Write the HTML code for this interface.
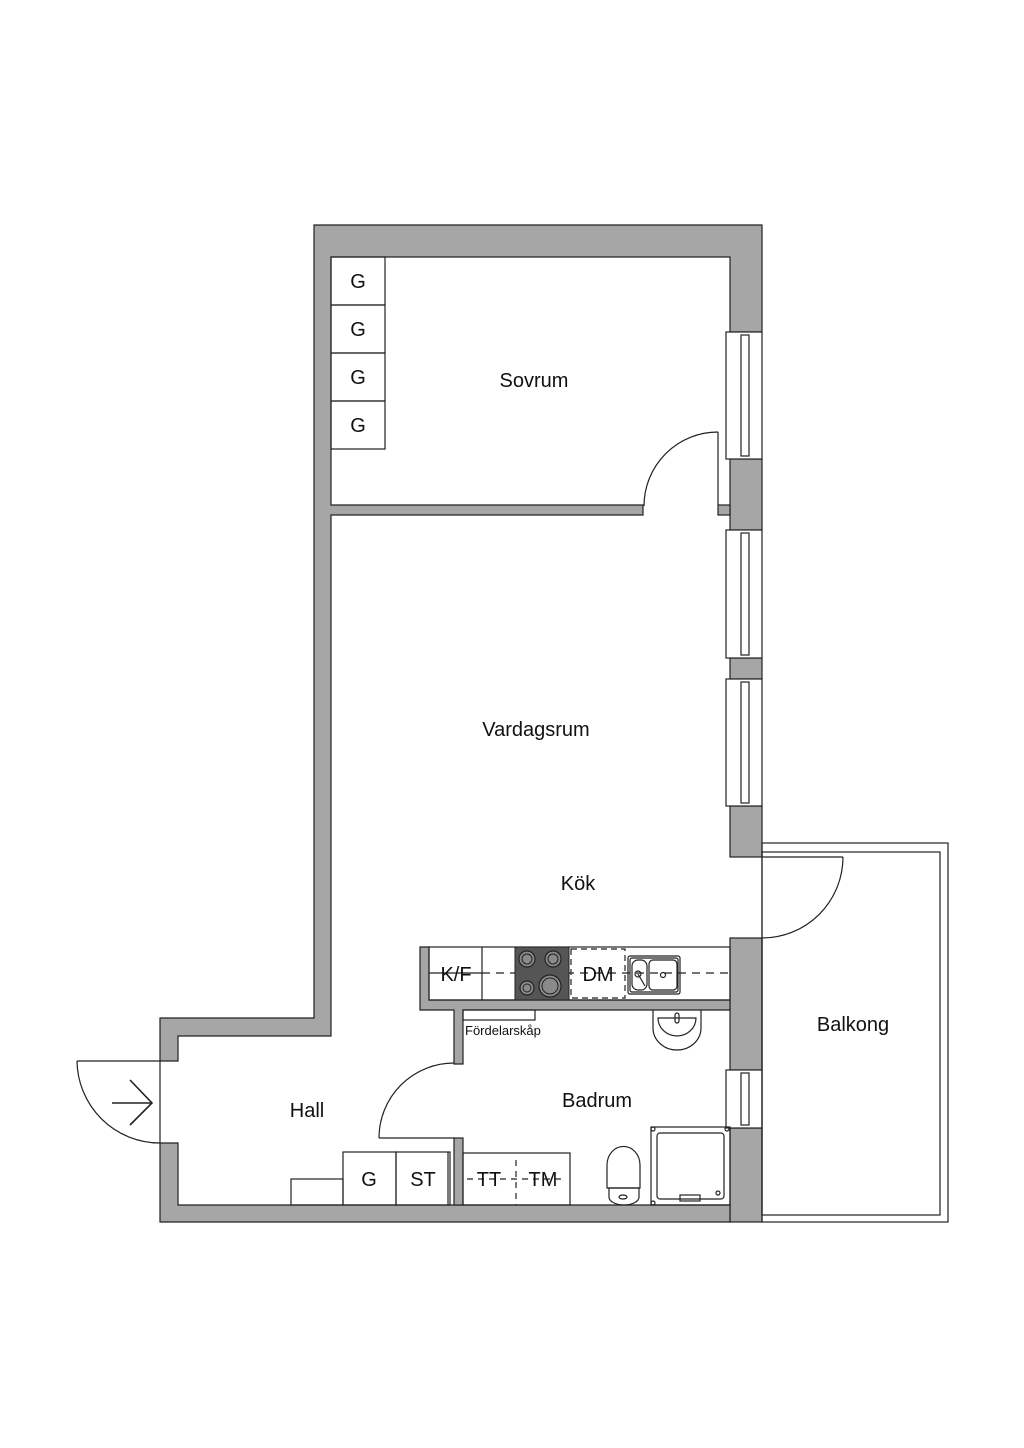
<!DOCTYPE html>
<html><head><meta charset="utf-8"><style>
html,body{margin:0;padding:0;background:#fff;}
svg{display:block;}
text{font-family:"Liberation Sans",sans-serif;fill:#111;}
</style></head><body>
<svg width="1024" height="1448" viewBox="0 0 1024 1448" xmlns="http://www.w3.org/2000/svg">
<g fill="#a6a6a6" stroke="#222" stroke-width="1.2">
<!-- outer top/left -->
<path d="M314,225 H762 V332 H730 V257 H331 V505 H643 V515 H331 V1036 H178 V1061 H160 V1018 H314 Z"/>
<!-- right wall pieces -->
<rect x="730" y="459" width="32" height="71"/>
<rect x="718" y="505" width="12" height="10"/>
<rect x="730" y="658" width="32" height="21"/>
<rect x="730" y="806" width="32" height="51"/>
<rect x="730" y="938" width="32" height="132"/>
<rect x="730" y="1128" width="32" height="94"/>
<!-- hall lower left + bottom -->
<path d="M160,1143 H178 V1205 H730 V1222 H160 Z"/>
<!-- kitchen counter wall -->
<path d="M420,947 H429 V1000 H730 V1010 H463 V1064 H454 V1010 H420 Z"/>
<rect x="454" y="1138" width="9" height="67"/>
</g>
<g fill="none" stroke="#222" stroke-width="1.2">
<!-- windows -->
<rect x="726" y="332" width="36" height="127" fill="#fff"/>
<rect x="741" y="335" width="8" height="121"/>
<rect x="726" y="530" width="36" height="128" fill="#fff"/>
<rect x="741" y="533" width="8" height="122"/>
<rect x="726" y="679" width="36" height="127" fill="#fff"/>
<rect x="741" y="682" width="8" height="121"/>
<rect x="726" y="1070" width="36" height="58" fill="#fff"/>
<rect x="741" y="1073" width="8" height="52"/>
<!-- sovrum door -->
<line x1="718" y1="432" x2="718" y2="505"/>
<path d="M718,432 A74,74 0 0 0 644,506"/>
<!-- balcony -->
<rect x="762" y="843" width="186" height="379"/>
<rect x="762" y="852" width="178" height="363"/>
<line x1="762" y1="857" x2="843" y2="857"/>
<path d="M843,857 A81,81 0 0 1 762,938"/>
<!-- entry door -->
<line x1="77" y1="1061" x2="160" y2="1061"/>
<line x1="160" y1="1061" x2="160" y2="1143"/>
<path d="M77,1061 A83,83 0 0 0 160,1143"/>
<line x1="112" y1="1103" x2="152" y2="1103" stroke-width="1.6"/>
<polyline points="130,1080 152,1103 130,1125" stroke-width="1.6"/>
<!-- bath door -->
<line x1="379" y1="1138" x2="454" y2="1138"/>
<path d="M379,1138 A75,75 0 0 1 454,1063"/>
<!-- sovrum wardrobes -->
<rect x="331" y="257" width="54" height="48"/>
<rect x="331" y="305" width="54" height="48"/>
<rect x="331" y="353" width="54" height="48"/>
<rect x="331" y="401" width="54" height="48"/>
<!-- hall storage -->
<rect x="291" y="1179" width="52" height="26"/>
<rect x="343" y="1152" width="53" height="53"/>
<rect x="396" y="1152" width="54" height="53"/>
<line x1="448" y1="1152" x2="448" y2="1205"/>
<!-- kitchen counter -->
<rect x="429" y="947" width="301" height="53"/>
<line x1="482" y1="947" x2="482" y2="1000"/>
<line x1="482" y1="973" x2="730" y2="973" stroke-dasharray="8,6"/>
<line x1="429" y1="973" x2="482" y2="973" stroke-dasharray="0"/>
<rect x="571" y="949" width="54" height="49" stroke-dasharray="6,4"/>
<!-- fordelarskap -->
<rect x="463" y="1010" width="72" height="10"/>
<!-- TT TM -->
<rect x="463" y="1153" width="107" height="52"/>
<line x1="516" y1="1160" x2="516" y2="1205" stroke-dasharray="6,5"/>
<line x1="467" y1="1179" x2="566" y2="1179" stroke-dasharray="6,5"/>
<!-- sink -->
<rect x="628" y="956" width="52" height="38" rx="2"/>
<rect x="630" y="958" width="48" height="34" rx="2"/>
<rect x="632" y="960" width="15" height="30" rx="6"/>
<rect x="649" y="960" width="28" height="30" rx="4"/>
<circle cx="638" cy="974" r="3"/>
<circle cx="663" cy="975" r="2.5"/>
<line x1="638" y1="974" x2="645" y2="986"/>
<!-- washbasin -->
<path d="M653,1010 V1028 A24,22 0 0 0 701,1028 V1010"/>
<path d="M658,1018 A19,18 0 0 0 696,1018 Z"/>
<rect x="675" y="1013" width="4" height="10" rx="2"/>
<!-- toilet -->
<path d="M607,1165 A16,18 0 0 1 640,1165 V1188 H607 Z"/>
<path d="M609,1188 H639 V1197 A15,8 0 0 1 609,1197 Z"/>
<ellipse cx="623" cy="1197" rx="4" ry="2"/>
<!-- shower -->
<rect x="651" y="1127" width="79" height="78"/>
<rect x="657" y="1133" width="67" height="66" rx="3"/>
<circle cx="653" cy="1129" r="2"/><circle cx="727" cy="1129" r="2"/>
<circle cx="653" cy="1203" r="2"/><circle cx="718" cy="1193" r="2"/>
<rect x="680" y="1195" width="20" height="6"/>
</g>
<!-- stove -->
<rect x="515" y="947" width="54" height="53" fill="#555" stroke="#222"/>
<g stroke="#222" stroke-width="1.2" fill="#8a8a8a">
<circle cx="527" cy="959" r="8"/><circle cx="553" cy="959" r="8"/>
<circle cx="527" cy="988" r="7"/><circle cx="550" cy="986" r="11"/>
</g>
<g fill="none" stroke="#222" stroke-width="1"><circle cx="527" cy="959" r="5"/><circle cx="553" cy="959" r="5"/><circle cx="527" cy="988" r="4"/><circle cx="550" cy="986" r="8"/></g>
<g font-size="20" text-anchor="middle">
<text x="358" y="288">G</text><text x="358" y="336">G</text><text x="358" y="384">G</text><text x="358" y="432">G</text>
<text x="534" y="387">Sovrum</text>
<text x="536" y="736">Vardagsrum</text>
<text x="578" y="890">Kök</text>
<text x="853" y="1031">Balkong</text>
<text x="307" y="1117">Hall</text>
<text x="597" y="1107">Badrum</text>
<text x="369" y="1186">G</text>
<text x="423" y="1186">ST</text>
<text x="456" y="981">K/F</text>
<text x="598" y="981">DM</text>
<text x="489" y="1186">TT</text>
<text x="543" y="1186">TM</text>
</g>
<text x="465" y="1035" font-size="13">Fördelarskåp</text>
</svg>
</body></html>
